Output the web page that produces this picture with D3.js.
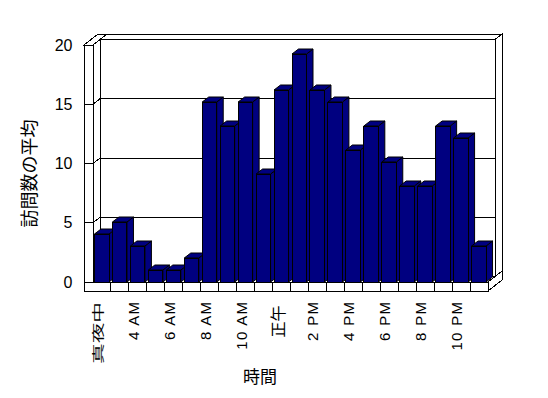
<!DOCTYPE html>
<html><head><meta charset="utf-8">
<script src="https://cdn.jsdelivr.net/npm/d3@7"></script>
<style>body{margin:0;background:#fff}svg{display:block}</style>
</head><body>
<svg id="c" width="548" height="398"></svg>
<script>
// ---- data ----
const categories = ["真夜中","1 AM","4 AM","5 AM","6 AM","7 AM","8 AM","9 AM","10 AM","11 AM","正午","1 PM","2 PM","3 PM","4 PM","5 PM","6 PM","7 PM","8 PM","9 PM","10 PM","11 PM"];
const values = [4,5,3,1,1,2,15,13,15,9,16,19,16,15,11,13,10,8,8,13,12,3];
const yTicks = [0,5,10,15,20];
const yTitle = "訪問数の平均";
const xTitle = "時間";

// ---- layout ----
const svg = d3.select("#c");
const x = d3.scaleBand().domain(categories).range([93, 488]).padding(0);
const yF = d3.scaleLinear().domain([0, 20]).range([282, 45]);   // axis / wall scale (front plane)
const yBar = d3.scaleLinear().domain([0, 20]).range([282, 42]); // bar heights
const DX = 7, DY = -5.5;           // depth step
const P = (px, py, k) => [px + DX * k, py + DY * k];
const xL = 93, xR = 488, wallOut = 84, floorBot = 291;
const y0 = yF(0), yTop = yF(20);
const line = d3.line();
const poly = (pts, g) => g.append("path").attr("d", line(pts) + "Z")
  .attr("fill", "#fff").attr("stroke", "#000").attr("stroke-width", 1);

const frame = svg.append("g").attr("shape-rendering", "crispEdges");
// back wall
poly([P(xL, yTop, 1), P(xR, yTop, 1), P(xR, yTop, 2), P(xL, yTop, 2)], frame);
poly([P(xL, yTop, 1), P(xR, yTop, 1), P(xR, y0, 1), P(xL, y0, 1)], frame);
poly([P(xR, yTop, 1), P(xR, yTop, 2), P(xR, y0, 2), P(xR, y0, 1)], frame);
// floor
poly([P(xL, y0, 0), P(xR, y0, 0), P(xR, y0, 1), P(xL, y0, 1)], frame);
poly([[xR, y0], P(xR, y0, 2), [xR + 2 * DX, floorBot + 2 * DY], [xR, floorBot]], frame);
// left wall
poly([P(xL, yTop, 0), P(xL, yTop, 1), P(xL, y0, 1), P(xL, y0, 0)], frame);
poly([[wallOut, yTop], [xL, yTop], P(xL, yTop, 2), [wallOut + 2 * DX, yTop + 2 * DY]], frame);
poly([[wallOut, yTop], [xL, yTop], [xL, y0], [xR, y0], [xR, floorBot], [wallOut, floorBot]], frame);

// gridlines and ticks
const grid = svg.append("g").attr("stroke", "#000").attr("shape-rendering", "crispEdges");
yTicks.forEach(v => {
  const fy = yF(v);
  grid.append("line").attr("x1", P(xL, fy, 1)[0]).attr("x2", P(xR, fy, 1)[0])
    .attr("y1", fy + DY).attr("y2", fy + DY);
  grid.append("line").attr("x1", xL).attr("y1", fy).attr("x2", xL + DX).attr("y2", fy + DY);
  grid.append("line").attr("x1", wallOut).attr("y1", fy).attr("x2", xL).attr("y2", fy);
});
// category dividers on floor front
categories.slice(1).forEach(c => {
  grid.append("line").attr("x1", x(c)).attr("x2", x(c)).attr("y1", y0).attr("y2", floorBot);
});

// bars
const BDX = 6.5, BDY = -5, bw = 14.5, boff = 1.5;
const barsG = svg.append("g").attr("fill", "#000080").attr("stroke", "#000").attr("stroke-width", 1);
categories.forEach((c, i) => {
  const bx = x(c) + boff, t = yBar(values[i]), b = yBar(0);
  const g = barsG.append("g");
  g.append("path").attr("d", line([[bx + bw, t], [bx + bw + BDX, t + BDY], [bx + bw + BDX, b + BDY], [bx + bw, b]]) + "Z");
  g.append("path").attr("d", line([[bx, t], [bx + bw, t], [bx + bw + BDX, t + BDY], [bx + BDX, t + BDY]]) + "Z");
  g.append("rect").attr("x", bx).attr("y", t).attr("width", bw).attr("height", b - t)
    .attr("shape-rendering", "crispEdges");
});

// y tick labels
svg.append("g").selectAll("text").data(yTicks).join("text")
  .attr("x", 72.5).attr("y", d => yF(d) + 5.5)
  .attr("text-anchor", "end")
  .attr("font-family", "Liberation Sans, Arial, sans-serif").attr("font-size", 16)
  .text(d => d);

// x tick labels (every other category)
const xl = svg.append("g");
categories.forEach((c, i) => {
  if (i % 2) return;
  const cx = x(c) + x.bandwidth() / 2 + 0.5;
  const cjk = /[^\x00-\x7F]/.test(c);
  const t = xl.append("text").attr("text-anchor", "end").text(c);
  if (cjk) {
    t.attr("font-family", "Noto Sans CJK JP, sans-serif");
    if (c.length > 2) {
      t.attr("font-size", 12).attr("textLength", 62).attr("lengthAdjust", "spacingAndGlyphs")
        .attr("transform", `translate(${cx + 1},302) rotate(-90)`);
    } else {
      t.attr("font-size", 16).attr("transform", `translate(${cx + 1.5},305.5) rotate(-90)`);
    }
  } else {
    t.attr("font-family", "Liberation Sans, Arial, sans-serif").attr("font-size", 15)
      .attr("letter-spacing", 1.3)
      .attr("transform", `translate(${cx + 0.5},300.7) rotate(-90)`);
  }
});

// axis titles
svg.append("text").attr("text-anchor", "middle")
  .attr("font-family", "Noto Sans CJK JP, sans-serif").attr("font-size", 18)
  .attr("transform", "translate(35.5,173.5) rotate(-90)").text(yTitle);
svg.append("text").attr("text-anchor", "middle")
  .attr("font-family", "Noto Sans CJK JP, sans-serif").attr("font-size", 17)
  .attr("x", 260).attr("y", 382.5).text(xTitle);
</script>
</body></html>
